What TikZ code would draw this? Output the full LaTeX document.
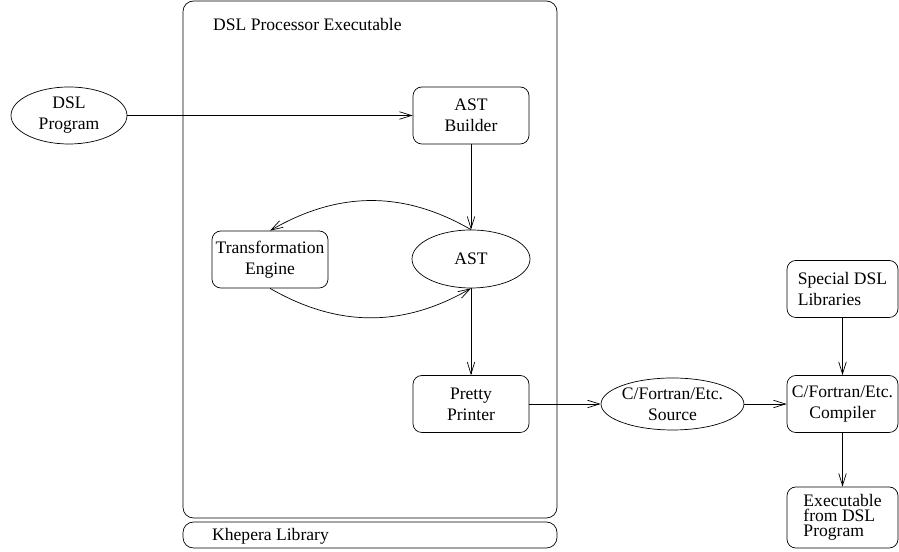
\documentclass[tikz,border=0pt]{standalone}
\usepackage{fontspec}
\setmainfont{Liberation Serif}
\usepackage{tikz}
\usetikzlibrary{positioning,arrows.meta,shapes.geometric}

\begin{document}
\begin{tikzpicture}[
        % --- STYLES ---
        arr/.style={
            -{Straight Barb[length=2.4mm,width=1.5mm]},
            thin
        },
        % rounded process box
        procbox/.style={
            rectangle,
            rounded corners=5pt,
            draw,
            thin,
            align=center,
            minimum width=2.32cm,
            minimum height=1.14cm,
            inner sep=1pt
        },
        % box at the right edge (narrower)
        sidebox/.style={
            procbox,
            minimum width=2.22cm
        },
        % data ellipse
        dataell/.style={
            ellipse,
            draw,
            thin,
            align=center,
            minimum width=2.32cm,
            minimum height=1.14cm,
            inner sep=0pt
        },
        % outer frames
        frame/.style={
            draw,
            thin,
            rounded corners=6pt
        }
    ]
        \useasboundingbox (0,0) rectangle (17.98,11.04);

        % --- FRAMES ---
        \draw[frame] (3.66,0.68) rectangle (11.14,11.02);
        \node[anchor=west] (title) at (4.14,10.54) {DSL Processor Executable};
        \draw[frame] (3.66,0.08) rectangle (11.14,0.60);
        \node[anchor=west] (khepera) at (4.12,0.32) {Khepera Library};

        % --- NODES ---
        \node[dataell] (prog) at (1.38,8.73) {DSL\\Program};
        \node[procbox] (builder) at (9.42,8.73) {AST\\Builder};
        \node[procbox] (engine) at (5.40,5.85) {Transformation\\Engine};
        \node[dataell, minimum width=2.36cm, minimum height=1.16cm] (ast) at (9.42,5.86) {AST};
        \node[procbox] (printer) at (9.42,2.96) {Pretty\\Printer};
        \node[dataell, minimum width=2.30cm, minimum height=1.04cm] (source) at (13.45,2.96) {C/Fortran/Etc.\\Source};
        \node[sidebox] (compiler) at (16.85,2.96) {C/Fortran/Etc.\\Compiler};
        \node[sidebox, align=left] (libs) at (16.85,5.26) {Special DSL\\Libraries};
        \node[sidebox, align=left, minimum height=1.22cm,
              font=\fontsize{10}{8.5}\selectfont] (exe) at (16.85,0.69) {Executable\\from DSL\\Program};

        % --- CONNECTORS ---
        \draw[arr] (prog) -- (builder);
        \draw[arr] (builder) -- (ast);
        \draw[arr] (ast.north) to[out=150, in=30] (engine.north);
        \draw[arr] (engine.south) to[out=-30, in=-150] (ast.south);
        \draw[arr] (ast) -- (printer);
        \draw[arr] (printer) -- (source);
        \draw[arr] (source) -- (compiler);
        \draw[arr] (libs) -- (compiler);
        \draw[arr] (compiler) -- (exe);

    \end{tikzpicture}
\end{document}
